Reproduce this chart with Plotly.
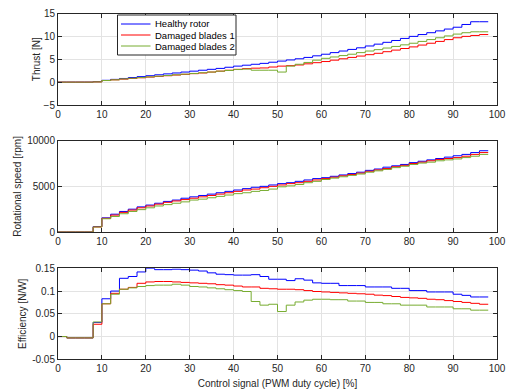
import plotly.graph_objects as go

duty = list(range(0, 100, 2))  # 0..98 %

thrust_healthy = [0, 0, 0, 0, 0.1, 0.4, 0.6, 0.8, 1.0, 1.2, 1.4, 1.6, 1.8, 2.0, 2.2, 2.4, 2.6, 2.8, 3.0, 3.25,
                  3.5, 3.7, 3.9, 4.1, 4.35, 4.6, 4.85, 5.1, 5.4, 5.75, 6.1, 6.45, 6.8, 7.15, 7.5, 7.9, 8.3, 8.7, 9.1, 9.55,
                  10.0, 10.4, 10.8, 11.2, 11.6, 12.0, 12.6, 13.2, 13.2, 13.2]
thrust_dmg1 = [0, 0, 0, 0, 0.05, 0.35, 0.5, 0.65, 0.8, 0.95, 1.1, 1.25, 1.4, 1.55, 1.7, 1.85, 2.0, 2.2, 2.4, 2.6,
               2.8, 2.95, 3.05, 3.1, 3.3, 3.5, 3.6, 3.75, 4.0, 4.25, 4.5, 4.8, 5.1, 5.4, 5.7, 6.0, 6.3, 6.65, 7.0, 7.35,
               7.7, 8.1, 8.5, 8.9, 9.3, 9.7, 10.0, 10.2, 10.4, 10.4]
thrust_dmg2 = [0, 0, 0, 0, 0.05, 0.35, 0.5, 0.7, 0.85, 1.0, 1.15, 1.3, 1.45, 1.6, 1.75, 1.9, 2.05, 2.2, 2.4, 2.55,
               2.75, 2.85, 2.6, 2.6, 2.6, 2.2, 3.5, 3.9, 4.3, 4.8, 5.2, 5.5, 5.8, 6.1, 6.45, 6.8, 7.1, 7.45, 7.8, 8.15,
               8.5, 8.9, 9.3, 9.7, 10.1, 10.5, 10.8, 11.0, 11.0, 11.0]

rpm_healthy = [0, 0, 0, 0, 600, 1550, 1950, 2250, 2500, 2750, 2950, 3150, 3350, 3500, 3700, 3850, 4000, 4150, 4300, 4450,
               4600, 4750, 4900, 5000, 5150, 5300, 5400, 5550, 5700, 5850, 5950, 6100, 6250, 6400, 6550, 6750, 6900, 7100, 7250, 7400,
               7600, 7750, 7900, 8050, 8200, 8350, 8500, 8700, 8900, 8900]
rpm_dmg1 = [0, 0, 0, 0, 550, 1500, 1850, 2150, 2400, 2650, 2850, 3050, 3250, 3400, 3550, 3700, 3850, 4000, 4150, 4300,
            4450, 4600, 4700, 4850, 5000, 5150, 5300, 5400, 5550, 5700, 5850, 6000, 6150, 6300, 6450, 6650, 6800, 6950, 7150, 7300,
            7500, 7650, 7800, 7950, 8050, 8150, 8300, 8500, 8700, 8700]
rpm_dmg2 = [0, 0, 0, 0, 550, 1450, 1700, 2000, 2250, 2450, 2650, 2850, 3000, 3150, 3300, 3500, 3600, 3750, 3900, 4050,
            4200, 4300, 4450, 4550, 4700, 4950, 5050, 5200, 5400, 5550, 5750, 5900, 6050, 6200, 6350, 6550, 6700, 6850, 7050, 7200,
            7400, 7550, 7650, 7800, 7900, 8000, 8150, 8300, 8500, 8500]

eff_healthy = [0, -0.003, -0.003, -0.003, 0.031, 0.083, 0.1, 0.128, 0.132, 0.142, 0.15, 0.147, 0.147, 0.148, 0.147, 0.146,
               0.144, 0.14, 0.137, 0.136, 0.135, 0.135, 0.136, 0.132, 0.126, 0.126, 0.123, 0.127, 0.124, 0.118, 0.117, 0.117,
               0.112, 0.112, 0.112, 0.109, 0.109, 0.109, 0.106, 0.106, 0.101, 0.101, 0.098, 0.098, 0.098, 0.093, 0.0905,
               0.087, 0.087, 0.087]
eff_dmg1 = [0, -0.003, -0.003, -0.003, 0.027, 0.072, 0.095, 0.104, 0.108, 0.117, 0.12, 0.121, 0.121, 0.12, 0.119, 0.118,
            0.117, 0.116, 0.114, 0.113, 0.111, 0.109, 0.109, 0.106, 0.105, 0.104, 0.104, 0.103, 0.101, 0.099, 0.098, 0.097,
            0.096, 0.095, 0.094, 0.093, 0.091, 0.09, 0.088, 0.086, 0.085, 0.084, 0.082, 0.081, 0.079, 0.077, 0.075,
            0.073, 0.071, 0.071]
eff_dmg2 = [0, -0.003, -0.003, -0.003, 0.032, 0.072, 0.093, 0.104, 0.107, 0.11, 0.112, 0.113, 0.113, 0.115, 0.113, 0.11,
            0.109, 0.107, 0.105, 0.103, 0.101, 0.099, 0.077, 0.069, 0.071, 0.055, 0.069, 0.076, 0.08, 0.082, 0.082, 0.081,
            0.081, 0.078, 0.078, 0.075, 0.075, 0.072, 0.072, 0.069, 0.069, 0.069, 0.065, 0.065, 0.065, 0.061, 0.061,
            0.058, 0.058, 0.058]

series_names = ["Healthy rotor", "Damaged blades 1", "Damaged blades 2"]
colors = ["#0000FF", "#FF0000", "#77AC30"]

x_ticks = [0, 10, 20, 30, 40, 50, 60, 70, 80, 90, 100]
thrust_ticks = [-5, 0, 5, 10, 15]
rpm_ticks = [0, 5000, 10000]
rpm_tick_text = ["0", "5000", "10000"]
eff_ticks = [-0.05, 0, 0.05, 0.1, 0.15]
eff_tick_text = ["-0.05", "0", "0.05", "0.1", "0.15"]

W, H = 507.0, 389.0


def fx(px):
    return px / W


def fy(py):
    return 1 - py / H


font_family = "Liberation Sans, Arial, sans-serif"
ink = "#262626"

fig = go.Figure()
panels = [
    ("y", "x", [thrust_healthy, thrust_dmg1, thrust_dmg2]),
    ("y2", "x2", [rpm_healthy, rpm_dmg1, rpm_dmg2]),
    ("y3", "x3", [eff_healthy, eff_dmg1, eff_dmg2]),
]
for yax, xax, data in panels:
    for name, col, vals in zip(series_names, colors, data):
        fig.add_trace(go.Scatter(x=duty, y=vals, mode="lines", line=dict(color=col, width=1, shape="hv"),
                                 name=name, showlegend=False, xaxis=xax, yaxis=yax))

axis_common = dict(showline=True, mirror="ticks", linecolor=ink, linewidth=1,
                   ticks="inside", ticklen=4, tickcolor=ink, automargin=False,
                   showgrid=True, gridcolor="#E3E3E3", gridwidth=1, zeroline=False,
                   tickfont=dict(family=font_family, size=10, color=ink))

xdom = [fx(58), fx(497)]
doms = [[fy(105), fy(13.5)], [fy(232), fy(140.7)], [fy(359.3), fy(268.3)]]

# legend box (drawn in paper coordinates, top panel)
shapes = [dict(type="rect", xref="paper", yref="paper", x0=fx(117.5), x1=fx(236), y0=fy(55), y1=fy(15),
               line=dict(color=ink, width=1), fillcolor="white", layer="above")]
annotations = []
for i, (name, col) in enumerate(zip(series_names, colors)):
    yc = fy(24 + 11 * i)
    shapes.append(dict(type="line", xref="paper", yref="paper", x0=fx(121), x1=fx(150.5), y0=yc, y1=yc,
                       line=dict(color=col, width=1), layer="above"))
    annotations.append(dict(xref="paper", yref="paper", x=fx(152.5), y=yc, xanchor="left", yanchor="middle",
                            text=name, showarrow=False,
                            font=dict(family=font_family, size=9.5, color="#000000")))

fig.update_layout(
    width=int(W), height=int(H),
    margin=dict(l=0, r=0, t=0, b=0),
    paper_bgcolor="white", plot_bgcolor="white",
    font=dict(family=font_family, size=10, color=ink),
    showlegend=False,
    shapes=shapes,
    annotations=annotations,
    xaxis=dict(domain=xdom, anchor="y", range=[0, 100], tickvals=x_ticks, **axis_common),
    yaxis=dict(domain=doms[0], anchor="x", range=[-5, 15], tickvals=thrust_ticks,
               title=dict(text="Thrust [N]", standoff=1, font=dict(size=10)), **axis_common),
    xaxis2=dict(domain=xdom, anchor="y2", range=[0, 100], tickvals=x_ticks, **axis_common),
    yaxis2=dict(domain=doms[1], anchor="x2", range=[0, 10000], tickvals=rpm_ticks, ticktext=rpm_tick_text,
                title=dict(text="Rotational speed [rpm]", standoff=3, font=dict(size=10)), **axis_common),
    xaxis3=dict(domain=xdom, anchor="y3", range=[0, 100], tickvals=x_ticks,
                title=dict(text="Control signal (PWM duty cycle) [%]", standoff=6, font=dict(size=10)), **axis_common),
    yaxis3=dict(domain=doms[2], anchor="x3", range=[-0.05, 0.15], tickvals=eff_ticks, ticktext=eff_tick_text,
                title=dict(text="Efficiency [N/W]", standoff=3, font=dict(size=10)), **axis_common),
)

fig.write_html("out.html", config={"displayModeBar": False},
               post_script="document.body.style.margin='0';document.body.style.overflow='hidden';")
